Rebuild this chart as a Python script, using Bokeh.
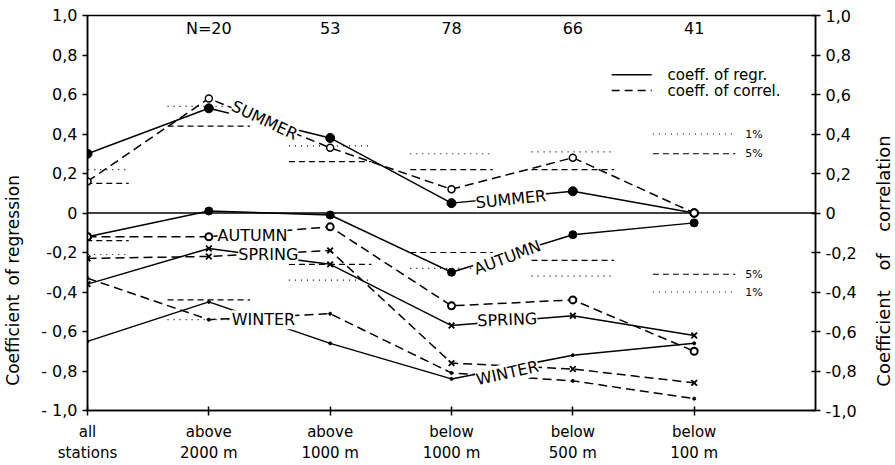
import math
from bokeh.plotting import figure
from bokeh.layouts import row
from bokeh.models import Range1d, FixedTicker, LinearAxis
from bokeh.core.properties import value
from bokeh.embed import file_html
from bokeh.resources import INLINE

# ---------------- data ----------------
categories = ["all\nstations", "above\n2000 m", "above\n1000 m",
              "below\n1000 m", "below\n500 m", "below\n100 m"]
cat_x = [0, 1, 2, 3, 4, 5]
n_labels = ["", "N=20", "53", "78", "66", "41"]

summer_regr = [0.30, 0.53, 0.38, 0.05, 0.11, 0.00]
summer_corr = [0.16, 0.58, 0.33, 0.12, 0.28, 0.00]
autumn_regr = [-0.12, 0.01, -0.01, -0.30, -0.11, -0.05]
autumn_corr = [-0.12, -0.12, -0.07, -0.47, -0.44, -0.70]
spring_regr = [-0.36, -0.18, -0.26, -0.57, -0.52, -0.62]
spring_corr = [-0.23, -0.22, -0.19, -0.76, -0.79, -0.86]
winter_regr = [-0.65, -0.45, -0.66, -0.84, -0.72, -0.66]
winter_corr = [-0.33, -0.54, -0.51, -0.81, -0.85, -0.94]

# significance limits of the correlation coefficient (5 % and 1 %)
sig5_pos = [0.15, 0.44, 0.26, 0.22, 0.22, 0.30]
sig1_pos = [0.22, 0.54, 0.34, 0.30, 0.31, 0.40]
sig5_neg = [-0.14, -0.44, -0.26, -0.20, -0.24, -0.31]
sig1_neg = [-0.21, -0.54, -0.34, -0.28, -0.32, -0.40]

y_ticks = [-1.0, -0.8, -0.6, -0.4, -0.2, 0.0, 0.2, 0.4, 0.6, 0.8, 1.0]
left_tick_labels = ["- 1,0", "- 0,8", "- 0,6", "-0,4", "-0,2", "0",
                    "0,2", "0,4", "0,6", "0,8", "1,0"]
right_tick_labels = ["-1,0", "-0,8", "-0,6", "-0,4", "-0,2", "0",
                     "0,2", "0,4", "0,6", "0,8", "1,0"]

season_names = ["SUMMER", "SUMMER", "AUTUMN", "AUTUMN",
                "SPRING", "SPRING", "WINTER", "WINTER"]
legend_texts = ["coeff. of regr.", "coeff. of correl."]
left_title_words = ["Coefficient", "of", "regression"]
right_title_words = ["Coefficient", "of", "correlation"]

# ---------------- layout / style constants ----------------
FONT = "DejaVu Sans"
HALF = 0.34          # half width of significance bars (category units)
N_Y = 0.935          # y of N labels
label_x = [1.46, 3.49, 1.36, 3.46, 1.49, 3.46, 1.45, 3.46]
label_y = [0.47, 0.07, -0.115, -0.225, -0.21, -0.54, -0.54, -0.81]
label_ang = [-0.44, 0.10, 0.0, 0.36, 0.0, 0.04, 0.0, 0.22]
H = 465
TOP, BOTTOM = 15, 52
LEFT_W, MAIN_W, RIGHT_W = 26, 839, 30
left_word_pos = [77, 178, 200]     # px from canvas bottom where each word starts
right_word_pos = [76, 193, 232]

# ---------------- main chart ----------------
p = figure(width=MAIN_W, height=H, x_range=Range1d(0, 6), y_range=Range1d(-1, 1),
           output_backend="svg", toolbar_location=None,
           min_border_left=61, min_border_right=50, min_border_top=TOP,
           min_border_bottom=BOTTOM)
p.xgrid.visible = False
p.ygrid.visible = False
p.outline_line_color = "black"
p.outline_line_width = 1.5
p.background_fill_color = "white"
p.border_fill_color = "white"

def style_axis(ax, size="16px"):
    ax.axis_line_color = "black"
    ax.axis_line_width = 1.5
    ax.major_tick_line_color = "black"
    ax.major_tick_line_width = 1.5
    ax.major_tick_in = 4
    ax.major_tick_out = 5
    ax.minor_tick_line_color = None
    ax.major_label_text_font = FONT
    ax.major_label_text_font_size = size
    ax.major_label_text_color = "black"

xa = p.xaxis[0]
style_axis(xa, "15px")
xa.ticker = FixedTicker(ticks=cat_x)
xa.major_label_overrides = {i: categories[i] for i in cat_x}
xa.major_label_standoff = 7

ya = p.yaxis[0]
style_axis(ya)
ya.ticker = FixedTicker(ticks=y_ticks)
ya.major_label_overrides = {t: l for t, l in zip(y_ticks, left_tick_labels)}
ya.major_tick_in = 0

ra = LinearAxis()
style_axis(ra)
ra.ticker = FixedTicker(ticks=y_ticks)
ra.major_label_overrides = {t: l for t, l in zip(y_ticks, right_tick_labels)}
p.add_layout(ra, "right")

# zero line
p.line([0, 6], [0, 0], line_color="black", line_width=1.5)

# significance bars
x0 = [x - HALF for x in cat_x]
x1 = [x + HALF for x in cat_x]
for arr, dash in ((sig5_pos, "6 4"), (sig5_neg, "6 4"), (sig1_pos, "1 5"), (sig1_neg, "1 5")):
    p.segment(x0, arr, x1, arr, line_color="black", line_width=1.2, line_dash=dash)

p.text([5 + HALF + 0.08] * 4, [sig1_pos[5], sig5_pos[5], sig5_neg[5], sig1_neg[5]],
       text=["1%", "5%", "5%", "1%"], text_font=value(FONT), text_font_size="11px",
       text_align="left", text_baseline="middle", text_color="black")

# series lines
regr = [summer_regr, autumn_regr, spring_regr, winter_regr]
corr = [summer_corr, autumn_corr, spring_corr, winter_corr]
for s in regr:
    p.line(cat_x, s, line_color="black", line_width=1.5)
for s in corr:
    p.line(cat_x, s, line_color="black", line_width=1.5, line_dash="9 5")

# season labels on the lines (white background hides the line underneath)
p.text(label_x, label_y, text=season_names, angle=label_ang,
       text_font=value(FONT), text_font_size="16px", text_align="center",
       text_baseline="middle", text_color="black",
       background_fill_color="white", background_fill_alpha=1.0)

# markers
p.scatter(cat_x, summer_regr, marker="circle", size=9, fill_color="black", line_color="black")
p.scatter(cat_x, summer_corr, marker="circle", size=7, fill_color="white", line_color="black", line_width=1.5)
p.scatter(cat_x, autumn_regr, marker="circle", size=8, fill_color="black", line_color="black")
p.scatter(cat_x, autumn_corr, marker="circle", size=7, fill_color="white", line_color="black", line_width=2)
p.scatter(cat_x, spring_regr, marker="x", size=8, line_color="black", line_width=1.8)
p.scatter(cat_x, spring_corr, marker="x", size=8, line_color="black", line_width=1.8)
p.scatter(cat_x, winter_regr, marker="circle", size=3, fill_color="black", line_color="black")
p.scatter(cat_x, winter_corr, marker="circle", size=3, fill_color="black", line_color="black")

# N labels
p.text(cat_x, [N_Y] * 6, text=n_labels, text_font=value(FONT), text_font_size="16px",
       text_align="center", text_baseline="middle", text_color="black")

# line-style legend
p.line([4.32, 4.65], [0.70, 0.70], line_color="black", line_width=1.5)
p.line([4.32, 4.65], [0.62, 0.62], line_color="black", line_width=1.5, line_dash="8 5")
p.text([4.78, 4.78], [0.70, 0.62], text=legend_texts, text_font=value(FONT),
       text_font_size="15px", text_align="left", text_baseline="middle", text_color="black")

# ---------------- axis-title strips (both read bottom-to-top) ----------------
# the row layout aligns the strips' frames with the main frame, so the strip's
# y range spans the same pixel rows (measured from the canvas bottom)
def title_strip(width, xc, words, starts, size):
    s = figure(width=width, height=H, x_range=Range1d(0, width),
               y_range=Range1d(BOTTOM, H - TOP),
               output_backend="svg", toolbar_location=None,
               x_axis_location=None, y_axis_location=None,
               min_border_left=0, min_border_right=0,
               min_border_top=TOP, min_border_bottom=BOTTOM)
    s.xgrid.visible = False
    s.ygrid.visible = False
    s.outline_line_color = None
    s.background_fill_color = "white"
    s.border_fill_color = "white"
    s.text([xc] * len(words), starts, text=words, angle=math.pi / 2,
           text_font=value(FONT), text_font_size=size, text_align="left",
           text_baseline="middle", text_color="black")
    return s

left_strip = title_strip(LEFT_W, 12, left_title_words, left_word_pos, "17px")
right_strip = title_strip(RIGHT_W, 18, right_title_words, right_word_pos, "18px")

layout = row(left_strip, p, right_strip, spacing=0)
open("out.html", "w").write(file_html(layout, INLINE))
